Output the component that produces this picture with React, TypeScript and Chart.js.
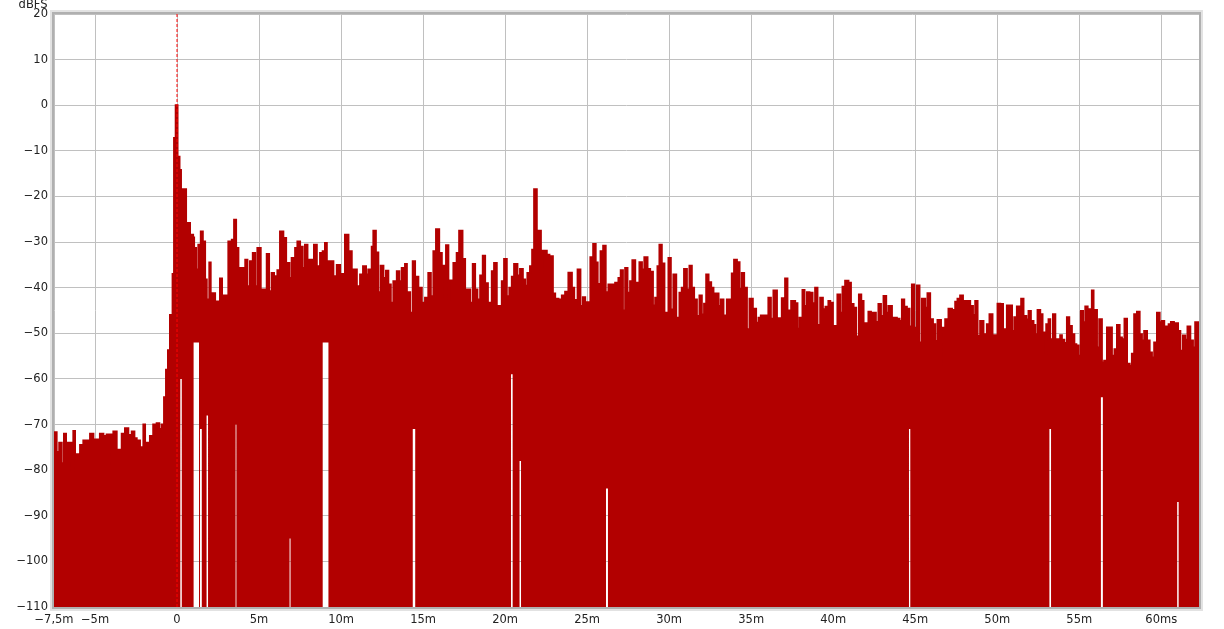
import { useEffect, useRef } from 'react';
import { Chart, registerables } from 'chart.js';

Chart.register(...registerables);

// Impulse envelope: [time ms, peak dBFS]; each value holds until the next time (stepped)
const ENVELOPE: [number, number][] = [
  [-7.5,-77],[-7.44,-71.7],[-7.34,-76],[-7.18,-74],[-7.03,-78.5],[-6.89,-72],[-6.77,-74],[-6.42,-80],[-6.32,-71.4],[-6.22,-76.5],
  [-5.91,-74.5],[-5.71,-73.5],[-5.30,-72],[-5.10,-73.3],[-4.80,-78],[-4.70,-72],[-4.49,-72.5],[-4.29,-72.2],[-3.98,-79],[-3.88,-71.5],
  [-3.68,-75.5],[-3.37,-72],[-3.17,-70.8],[-2.97,-72.3],[-2.76,-71.5],[-2.60,-73],[-2.46,-73.5],[-2.26,-75],[-2.05,-70],[-1.95,-74],
  [-1.65,-72.5],[-1.45,-70],[-1.24,-69.7],[-1.08,-71],[-0.93,-70],[-0.79,-64],[-0.67,-58],[-0.55,-53.7],[-0.43,-46],[-0.27,-37],
  [-0.18,-7.2],[-0.08,0],[0.03,-12],[0.08,-11.3],[0.15,-14.2],[0.24,-25.8],[0.35,-18.4],[0.55,-25.8],[0.79,-28.4],[0.98,-29],
  [1.04,-31.3],[1.16,-36],[1.30,-30.6],[1.45,-27.7],[1.57,-29.9],[1.71,-38.2],[1.81,-42.6],[1.97,-34.5],[2.05,-41.2],[2.32,-43],
  [2.62,-38],[2.74,-41.7],[3.03,-43],[3.13,-29.9],[3.34,-29.5],[3.48,-25.1],[3.60,-31.3],[3.74,-35.7],[4.04,-36.8],[4.16,-33.9],
  [4.29,-39.7],[4.45,-34.2],[4.62,-32.4],[4.76,-39.7],[4.90,-31.3],[5.10,-40.4],[5.47,-32.6],[5.61,-40.8],[5.77,-36.8],[5.91,-37.5],
  [6.12,-36.2],[6.28,-27.7],[6.48,-29.1],[6.65,-34.6],[6.85,-37.9],[6.99,-33.5],[7.20,-31.3],[7.34,-29.9],[7.50,-31],[7.66,-35.7],
  [7.80,-30.6],[7.95,-33.9],[8.23,-35],[8.35,-30.6],[8.52,-35.3],[8.72,-32.4],[8.88,-32],[9.02,-30.2],[9.13,-34.2],[9.53,-37.5],
  [9.74,-35],[9.94,-37],[10.24,-28.4],[10.45,-32],[10.65,-37.5],[10.75,-36],[10.96,-39.7],[11.16,-37.1],[11.34,-35.3],[11.52,-37.1],
  [11.66,-36],[11.87,-31],[11.97,-27.5],[12.12,-32.3],[12.27,-41],[12.42,-35.2],[12.58,-37.9],[12.74,-36.3],[12.88,-39.3],[13.03,-43.3],
  [13.19,-38.6],[13.40,-36.4],[13.55,-38.6],[13.70,-35.7],[13.90,-34.8],[14.01,-41],[14.21,-45.5],[14.37,-34.2],[14.51,-37.6],[14.71,-40],
  [14.92,-43.3],[15.12,-42.2],[15.32,-36.8],[15.47,-41.9],[15.63,-32],[15.79,-27.2],[15.98,-32.4],[16.14,-35.2],[16.28,-42.4],[16.40,-30.7],
  [16.54,-38.4],[16.75,-42.6],[16.85,-34.6],[17.05,-32.4],[17.20,-27.5],[17.40,-33.7],[17.56,-40.4],[17.87,-43.3],[18.03,-34.8],[18.17,-40.4],
  [18.31,-42.6],[18.48,-37.3],[18.64,-33],[18.78,-39],[18.95,-43.3],[19.19,-36.4],[19.33,-34.6],[19.49,-44],[19.80,-38.6],[19.94,-33.7],
  [20.10,-41.9],[20.26,-40],[20.41,-37.6],[20.55,-34.8],[20.75,-37.3],[20.91,-35.9],[21.08,-38.2],[21.22,-39.6],[21.36,-36.8],[21.52,-35.3],
  [21.65,-31.7],[21.77,-18.4],[21.93,-27.5],[22.18,-37],[22.30,-31.9],[22.54,-32.8],[22.70,-33.1],[22.91,-41.3],[23.05,-42.4],[23.25,-42.6],
  [23.46,-41.7],[23.66,-40.9],[23.86,-36.7],[24.07,-40],[24.21,-45.8],[24.33,-42.7],[24.42,-36],[24.59,-44],[24.74,-42.1],[24.88,-43.2],
  [25.20,-33.3],[25.37,-30.4],[25.52,-34.5],[25.64,-39.2],[25.82,-32],[25.98,-30.8],[26.13,-41],[26.30,-39.3],[26.71,-38.9],[26.91,-37.9],
  [27.05,-36.2],[27.18,-45],[27.32,-35.7],[27.46,-41.1],[27.62,-38.6],[27.76,-34],[27.93,-38.9],[28.07,-42.9],[28.19,-34.4],[28.34,-36],
  [28.49,-33.3],[28.68,-35.9],[28.84,-36.5],[29.01,-43.9],[29.15,-42.2],[29.29,-35.3],[29.41,-30.6],[29.55,-34.7],[29.71,-45.5],[29.86,-46.6],
  [29.96,-33.5],[30.10,-44.8],[30.26,-37.1],[30.43,-46.6],[30.63,-41.1],[30.77,-40],[30.91,-35.9],[31.08,-40.4],[31.24,-35.2],[31.38,-40],
  [31.52,-42.6],[31.69,-46.2],[31.85,-41.7],[31.99,-45.9],[32.13,-43.5],[32.26,-37.1],[32.40,-38.8],[32.56,-40],[32.70,-41.3],[33.01,-44],
  [33.15,-42.6],[33.31,-46.1],[33.52,-42.6],[33.82,-36.9],[33.96,-33.9],[34.13,-34.4],[34.29,-40.3],[34.43,-36.8],[34.57,-40],[34.74,-49.1],
  [34.90,-42.4],[35.10,-44.6],[35.30,-47.7],[35.45,-46.6],[35.59,-46.1],[36.05,-42.2],[36.20,-46.8],[36.36,-40.6],[36.57,-46.7],[36.87,-42.3],
  [37.07,-38],[37.21,-45],[37.44,-42.9],[37.68,-43.4],[37.82,-49],[37.95,-46.6],[38.13,-40.5],[38.25,-44],[38.40,-41],[38.55,-41.1],
  [38.74,-43.4],[38.90,-40],[39.04,-48.2],[39.21,-42.2],[39.37,-44.7],[39.53,-44.2],[39.71,-42.9],[39.82,-43.3],[39.98,-48.4],[40.18,-55.3],
  [40.26,-41.5],[40.43,-45.5],[40.57,-39.8],[40.73,-38.5],[40.93,-38.9],[41.08,-43.6],[41.24,-44.4],[41.40,-50.7],[41.57,-41.5],[41.71,-42.9],
  [41.85,-47.8],[42.15,-45.3],[42.30,-45.5],[42.60,-47.5],[42.76,-43.6],[42.91,-46.2],[43.07,-41.8],[43.23,-45.5],[43.37,-44],[43.58,-46.6],
  [43.88,-46.8],[44.04,-47.3],[44.19,-42.6],[44.33,-44.2],[44.49,-44.6],[44.65,-48.5],[44.80,-39.3],[44.94,-48.8],[45.10,-39.5],[45.26,-52],
  [45.41,-42.4],[45.61,-44.4],[45.75,-41.2],[45.91,-46.9],[46.08,-48],[46.22,-51.7],[46.36,-47.1],[46.57,-48.8],[46.73,-56.8],[46.83,-46.9],
  [47.03,-44.6],[47.24,-44.9],[47.44,-43.1],[47.58,-42.4],[47.74,-41.7],[47.91,-42.9],[48.35,-44],[48.52,-46],[48.66,-42.9],[48.80,-50.6],
  [48.96,-47.3],[49.16,-50.2],[49.37,-48],[49.53,-45.8],[49.71,-50.4],[50.02,-43.5],[50.18,-43.6],[50.35,-49.1],[50.49,-50.2],[50.59,-43.9],
  [50.90,-49.5],[51.04,-46.5],[51.20,-44.1],[51.34,-46.2],[51.46,-42.4],[51.60,-46.2],[51.77,-47],[51.91,-45.1],[52.05,-47.3],[52.21,-48.2],
  [52.32,-50.2],[52.46,-44.9],[52.62,-45.8],[52.76,-49.8],[52.93,-54.5],[52.99,-48],[53.13,-46.9],[53.23,-51.3],[53.40,-45.8],[53.54,-51.3],
  [53.84,-50.4],[53.94,-51.4],[54.09,-52.1],[54.25,-46.5],[54.39,-48.4],[54.55,-50.2],[54.70,-52.4],[54.82,-52.7],[54.96,-54.9],[55.10,-45.1],
  [55.23,-47.6],[55.37,-44.1],[55.51,-44.7],[55.77,-40.6],[55.87,-44.9],[56.08,-53.1],[56.22,-46.9],[56.38,-56.4],[56.52,-56],[56.69,-48.7],
  [56.99,-54.9],[57.15,-53.5],[57.30,-48.2],[57.46,-50.9],[57.60,-51.3],[57.76,-46.8],[57.91,-56.7],[58.07,-57.1],[58.21,-54.5],[58.35,-45.8],
  [58.52,-45.3],[58.68,-50.2],[58.82,-51.6],[58.96,-49.5],[59.13,-51.6],[59.29,-54.2],[59.43,-55.3],[59.57,-52],[59.74,-45.5],[59.90,-47.6],
  [60.04,-47.3],[60.18,-53.1],[60.30,-48.5],[60.45,-48],[60.59,-47.5],[60.77,-54.9],[60.85,-47.8],[61.02,-49.5],[61.16,-53.8],[61.32,-50.5],
  [61.46,-51.4],[61.60,-48.5],[61.77,-51.6],[61.93,-53.1],[62.07,-47.6],[62.3,-47.6],
];

// Places where the trace stays high (white gaps below): [start ms, end ms, lowest dBFS]
const GAPS: [number, number, number][] = [
  [0.20, 0.29, -60],
  [1.01, 1.34, -52],
  [1.40, 1.51, -71],
  [1.80, 1.89, -68],
  [3.57, 3.62, -70],
  [6.86, 6.92, -95],
  [8.88, 9.23, -52],
  [14.37, 14.52, -71],
  [20.36, 20.46, -59],
  [20.88, 20.97, -78],
  [26.15, 26.27, -84],
  [44.62, 44.70, -71],
  [53.18, 53.28, -71],
  [56.32, 56.44, -64],
  [60.97, 61.06, -87],
];

const FLOOR_DB = -130;
const X_MIN = -7.5;
const X_MAX = 62.3;
const Y_MIN = -110;
const Y_MAX = 20;
const X_TICK_VALUES = [-7.5, -5, 0, 5, 10, 15, 20, 25, 30, 35, 40, 45, 50, 55, 60];
const X_TICK_LABELS = ['−7,5m', '−5m', '0', '5m', '10m', '15m', '20m', '25m', '30m', '35m', '40m', '45m', '50m', '55m', '60ms'];
const Y_UNIT = 'dBFS';
const MARKER_T = 0;

const RED = '#b20000';
const FONT = { family: '"DejaVu Sans", sans-serif', size: 11.5 };

export default function App() {
  const ref = useRef<HTMLCanvasElement | null>(null);

  useEffect(() => {
    document.body.style.margin = '0';
    const canvas = ref.current;
    if (!canvas) return;

    const floorPts: { x: number; y: number }[] = [{ x: X_MIN, y: FLOOR_DB }];
    GAPS.forEach(([s, e, v]) => {
      floorPts.push({ x: s, y: v });
      floorPts.push({ x: e, y: FLOOR_DB });
    });
    floorPts.push({ x: X_MAX, y: FLOOR_DB });

    const framePlugin = {
      id: 'frame',
      afterDraw(chart: any) {
        const { ctx, chartArea: a } = chart;
        ctx.save();
        ctx.strokeStyle = '#e2e2e2';
        ctx.lineWidth = 4;
        ctx.strokeRect(a.left - 2, a.top - 2, a.right - a.left + 4, a.bottom - a.top + 4);
        ctx.strokeStyle = '#b0b0b0';
        ctx.lineWidth = 2;
        ctx.strokeRect(a.left - 1, a.top - 1, a.right - a.left + 2, a.bottom - a.top + 2);
        ctx.fillStyle = '#222';
        ctx.font = `${FONT.size}px ${FONT.family}`;
        ctx.textAlign = 'right';
        ctx.textBaseline = 'alphabetic';
        ctx.fillText(Y_UNIT, 47.5, 7.5);
        ctx.restore();
      },
    };

    const chart = new Chart(canvas, {
      type: 'line',
      data: {
        datasets: [
          {
            label: 'floor',
            data: floorPts,
            stepped: true,
            borderWidth: 0,
            pointRadius: 0,
            fill: false,
            order: 2,
          } as any,
          {
            label: 'impulse',
            data: ENVELOPE.map(([x, y]) => ({ x, y })),
            stepped: true,
            borderColor: RED,
            backgroundColor: RED,
            borderWidth: 2,
            pointRadius: 0,
            fill: '-1',
            order: 1,
          } as any,
          {
            label: 'marker',
            data: [{ x: MARKER_T, y: Y_MIN }, { x: MARKER_T, y: Y_MAX }],
            borderColor: '#ff0000',
            borderWidth: 1,
            borderDash: [3, 2],
            pointRadius: 0,
            fill: false,
            order: 0,
          } as any,
        ],
      },
      options: {
        animation: false,
        responsive: false,
        devicePixelRatio: 1,
        layout: { padding: { left: 0, right: 25, top: 14, bottom: 0 } },
        plugins: { legend: { display: false }, tooltip: { enabled: false } },
        scales: {
          x: {
            type: 'linear',
            min: X_MIN,
            max: X_MAX,
            afterBuildTicks: (axis: any) => {
              axis.ticks = X_TICK_VALUES.map((v) => ({ value: v }));
            },
            afterFit: (axis: any) => { axis.height = 22; },
            grid: { color: '#c0c0c0', lineWidth: 1, drawTicks: false },
            border: { display: false },
            ticks: {
              padding: 6,
              color: '#222',
              font: FONT,
              maxRotation: 0,
              autoSkip: false,
              callback: (v: any) => {
                const i = X_TICK_VALUES.indexOf(Number(v));
                return i >= 0 ? X_TICK_LABELS[i] : '';
              },
            },
          },
          y: {
            type: 'linear',
            min: Y_MIN,
            max: Y_MAX,
            afterFit: (axis: any) => { axis.width = 54; },
            grid: { color: '#c0c0c0', lineWidth: 1, drawTicks: false },
            border: { display: false },
            ticks: {
              stepSize: 10,
              padding: 6,
              color: '#222',
              font: FONT,
              callback: (v: any) => (Number(v) < 0 ? '−' + Math.abs(Number(v)) : String(v)),
            },
          },
        },
      },
      plugins: [framePlugin],
    } as any);

    return () => chart.destroy();
  }, []);

  return <canvas ref={ref} width={1224} height={629} style={{ display: 'block' }} />;
}
